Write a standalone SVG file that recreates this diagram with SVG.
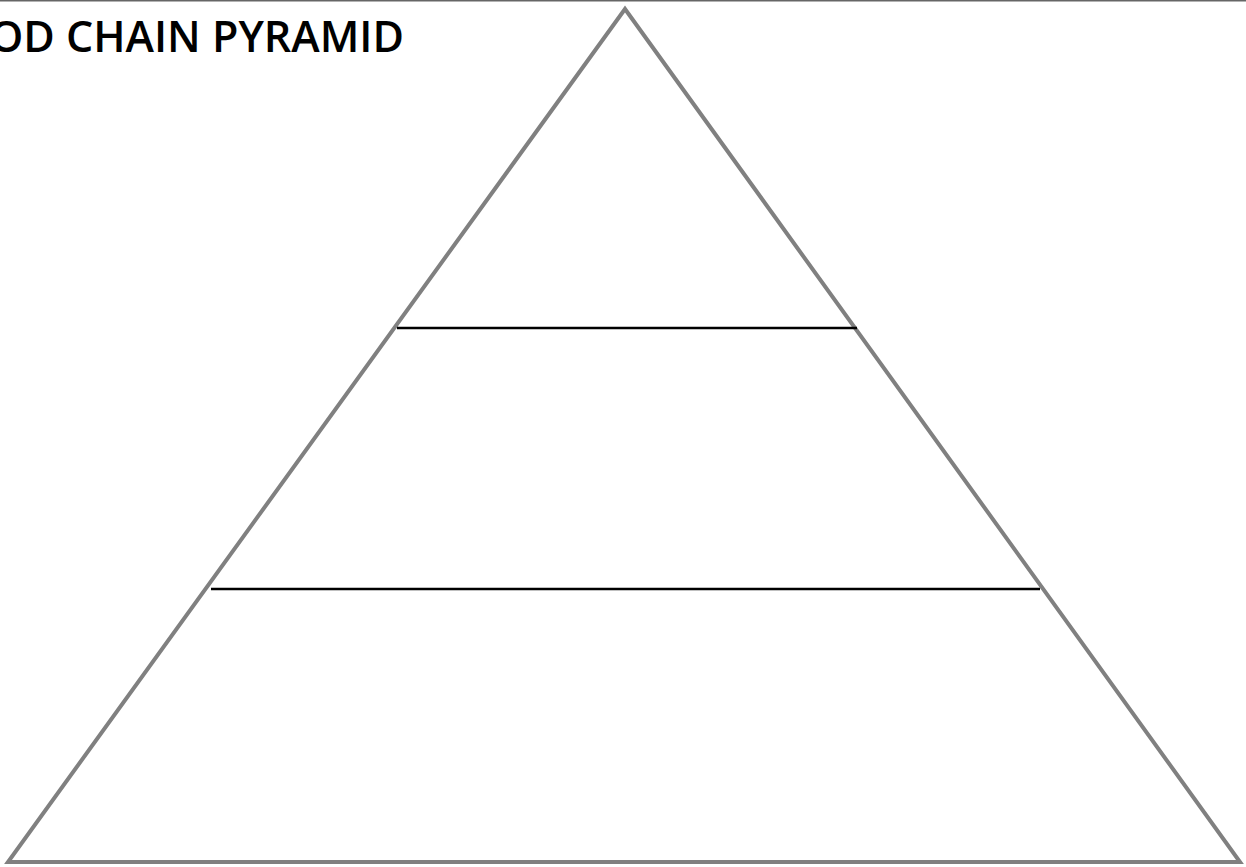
<svg xmlns="http://www.w3.org/2000/svg" width="1246" height="867" viewBox="0 0 1246 867">
<style>
.edge{fill:none;stroke:#808080;stroke-width:4;stroke-linejoin:miter}
.div{stroke:#000;stroke-width:2.5}
.title{font-family:"Open Sans",Lato,"Liberation Sans",sans-serif;font-weight:600;font-size:43px;fill:#000}
</style>
<rect width="1246" height="867" fill="#fff"/>
<line x1="0" y1="0.5" x2="1246" y2="0.5" stroke="#666" stroke-width="2"/>
<text class="title" x="404" y="52" text-anchor="end">FOOD CHAIN PYRAMID</text>
<g id="pyramid">
<polygon class="edge" points="625,9 8,862 1240,862"/>
</g>
<g id="levels">
<line class="div" x1="397" y1="328" x2="857" y2="328"/>
<line class="div" x1="211" y1="589" x2="1040" y2="589"/>
</g>
</svg>
